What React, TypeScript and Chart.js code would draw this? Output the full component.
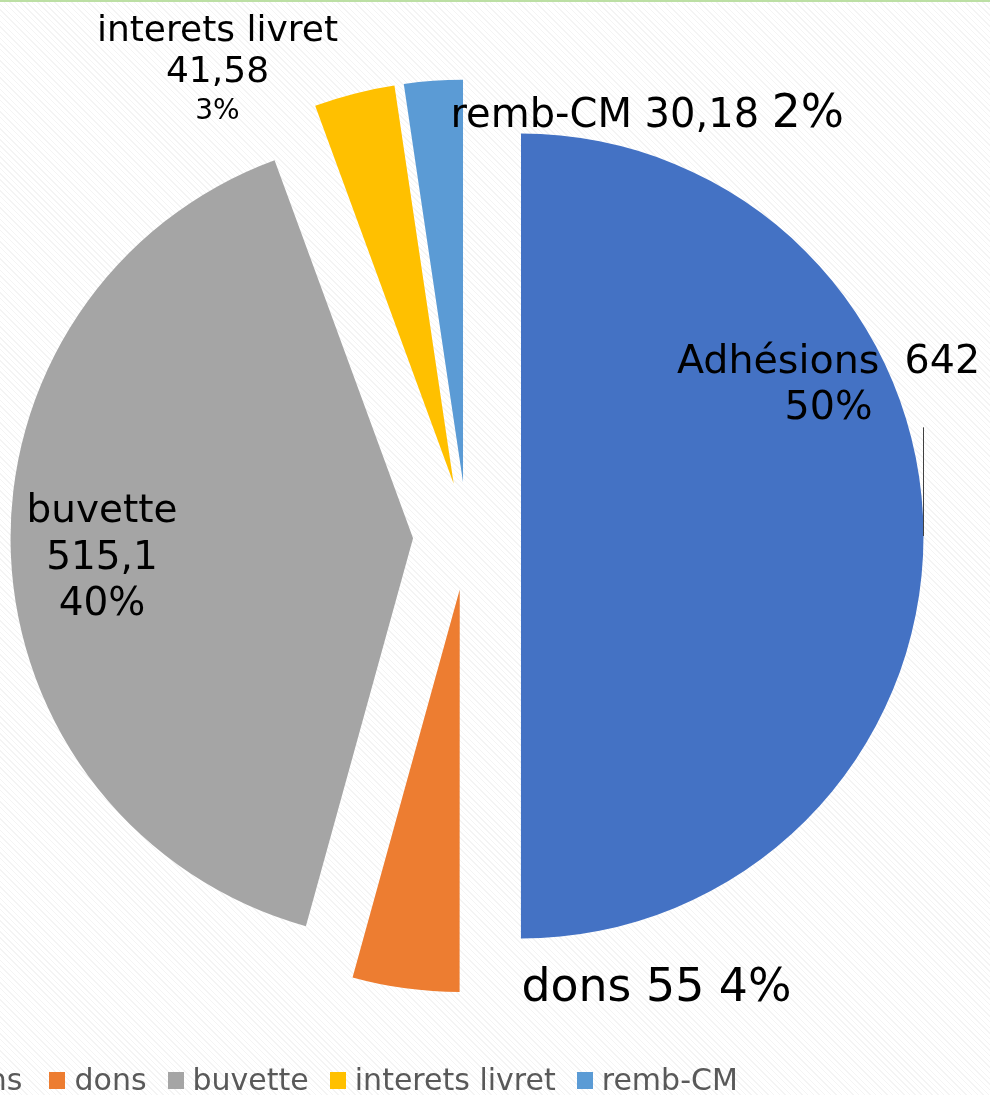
import React, { useEffect, useRef } from "react";
import { Chart, registerables } from "chart.js";

Chart.register(...registerables);

// ---- data ----
const categories = ["Adhésions", "dons", "buvette", "interets livret", "remb-CM"];
const values = [642, 55, 515.1, 41.58, 30.18];
const colors = ["#4472C4", "#ED7D31", "#A5A5A5", "#FFC000", "#5B9BD5"];

// ---- geometry / style ----
const W = 990;
const H = 1095;
const PIE_RADIUS = 402.5;
const EXPLODE = 54;
const FONT = '"DejaVu Sans", sans-serif';

// label templates: {n}=name {v}=value {p}=percent ; offsets relative to pie centre
type Seg = { t: string; size: number };
type LabelLine = { segs: Seg[]; dy: number };
type LabelSpec = { align: "center" | "left"; dx: number; lines: LabelLine[] };

const labelSpecs: LabelSpec[] = [
  {
    align: "center",
    dx: 361.5,
    lines: [
      { segs: [{ t: "{n}  {v}", size: 39.6 }], dy: -163 },
      { segs: [{ t: "{p}", size: 39.6 }], dy: -117 },
    ],
  },
  {
    align: "left",
    dx: 54.5,
    lines: [{ segs: [{ t: "{n} {v} {p}", size: 45.8 }], dy: 465 }],
  },
  {
    align: "center",
    dx: -365,
    lines: [
      { segs: [{ t: "{n}", size: 39 }], dy: -14 },
      { segs: [{ t: "{v}", size: 39 }], dy: 33 },
      { segs: [{ t: "{p}", size: 39 }], dy: 79 },
    ],
  },
  {
    align: "center",
    dx: -249.5,
    lines: [
      { segs: [{ t: "{n}", size: 36 }], dy: -495 },
      { segs: [{ t: "{v}", size: 36 }], dy: -454 },
      { segs: [{ t: "{p}", size: 28 }], dy: -417 },
    ],
  },
  {
    align: "left",
    dx: -16.5,
    lines: [
      { segs: [{ t: "{n} {v} ", size: 40 }, { t: "{p}", size: 45.5 }], dy: -409 },
    ],
  },
];

const fmtValue = (v: number) => String(v).replace(".", ",");

const explodePlugin = {
  id: "explodeSlices",
  afterDatasetUpdate(chart: any, args: any) {
    const meta = args.meta;
    meta.data.forEach((arc: any) => {
      const mid = (arc.startAngle + arc.endAngle) / 2;
      arc.x += Math.cos(mid) * EXPLODE;
      arc.y += Math.sin(mid) * EXPLODE;
    });
  },
};

const labelPlugin = {
  id: "sliceLabels",
  afterDatasetsDraw(chart: any) {
    const ctx = chart.ctx;
    const area = chart.chartArea;
    const cx = (area.left + area.right) / 2;
    const cy = (area.top + area.bottom) / 2;
    const total = values.reduce((a, b) => a + b, 0);
    const meta = chart.getDatasetMeta(0);
    ctx.save();
    ctx.fillStyle = "#000000";
    ctx.textBaseline = "alphabetic";

    labelSpecs.forEach((spec, i) => {
      const name = categories[i];
      const v = fmtValue(values[i]);
      const p = Math.round((values[i] / total) * 100) + "%";
      spec.lines.forEach((line) => {
        const texts = line.segs.map((s) => ({
          text: s.t.replace("{n}", name).replace("{v}", v).replace("{p}", p),
          font: `${s.size}px ${FONT}`,
        }));
        const widths = texts.map((s) => {
          ctx.font = s.font;
          return ctx.measureText(s.text).width;
        });
        const totalW = widths.reduce((a, b) => a + b, 0);
        let x = cx + spec.dx - (spec.align === "center" ? totalW / 2 : 0);
        const y = cy + line.dy;
        texts.forEach((s, k) => {
          ctx.font = s.font;
          ctx.textAlign = "left";
          ctx.fillText(s.text, x, y);
          x += widths[k];
        });
      });
    });

    // leader line next to the first slice
    const a0 = meta.data[0];
    if (a0) {
      ctx.strokeStyle = "#404040";
      ctx.lineWidth = 1;
      ctx.beginPath();
      const lx = Math.round(a0.x + a0.outerRadius) + 0.5;
      ctx.moveTo(lx, a0.y - a0.outerRadius * 0.27);
      ctx.lineTo(lx, a0.y);
      ctx.stroke();
    }
    ctx.restore();
  },
};

export default function App() {
  const canvasRef = useRef<HTMLCanvasElement | null>(null);

  useEffect(() => {
    if (!canvasRef.current) return;
    const chart = new Chart(canvasRef.current, {
      type: "pie",
      data: {
        labels: categories,
        datasets: [
          {
            data: values,
            backgroundColor: colors,
            borderWidth: 0,
            radius: PIE_RADIUS,
          } as any,
        ],
      },
      options: {
        animation: false,
        responsive: false,
        devicePixelRatio: 1,
        events: [],
        layout: { padding: { left: 0, top: 0, right: 56, bottom: 23 } },
        plugins: {
          legend: { display: false },
          tooltip: { enabled: false },
        },
      },
      plugins: [explodePlugin, labelPlugin],
    });
    return () => chart.destroy();
  }, []);

  return (
    <div
      style={{
        position: "fixed",
        left: 0,
        top: 0,
        width: W,
        height: H,
        overflow: "hidden",
        backgroundColor: "#ffffff",
        backgroundImage:
          "repeating-linear-gradient(45deg, #ffffff 0px, #ffffff 3px, #f4f4f4 3px, #f4f4f4 4px)",
        fontFamily: FONT,
      }}
    >
      <div style={{ position: "absolute", left: 0, top: 0, width: W, height: 2, background: "#bcdfa4" }} />
      <canvas ref={canvasRef} width={W} height={H} style={{ position: "absolute", left: 0, top: 0, width: W, height: H }} />
      <div
        style={{
          position: "absolute",
          left: -156,
          top: 1065,
          height: 30,
          display: "flex",
          alignItems: "center",
          whiteSpace: "nowrap",
          color: "#595959",
          fontSize: 30,
          lineHeight: "30px",
        }}
      >
        {categories.map((c, i) => (
          <div key={c} style={{ display: "flex", alignItems: "center", marginRight: i === 0 ? 27 : 21 }}>
            <span style={{ display: "inline-block", width: 16, height: 17, background: colors[i], marginRight: 9 }} />
            <span>{c}</span>
          </div>
        ))}
      </div>
    </div>
  );
}
